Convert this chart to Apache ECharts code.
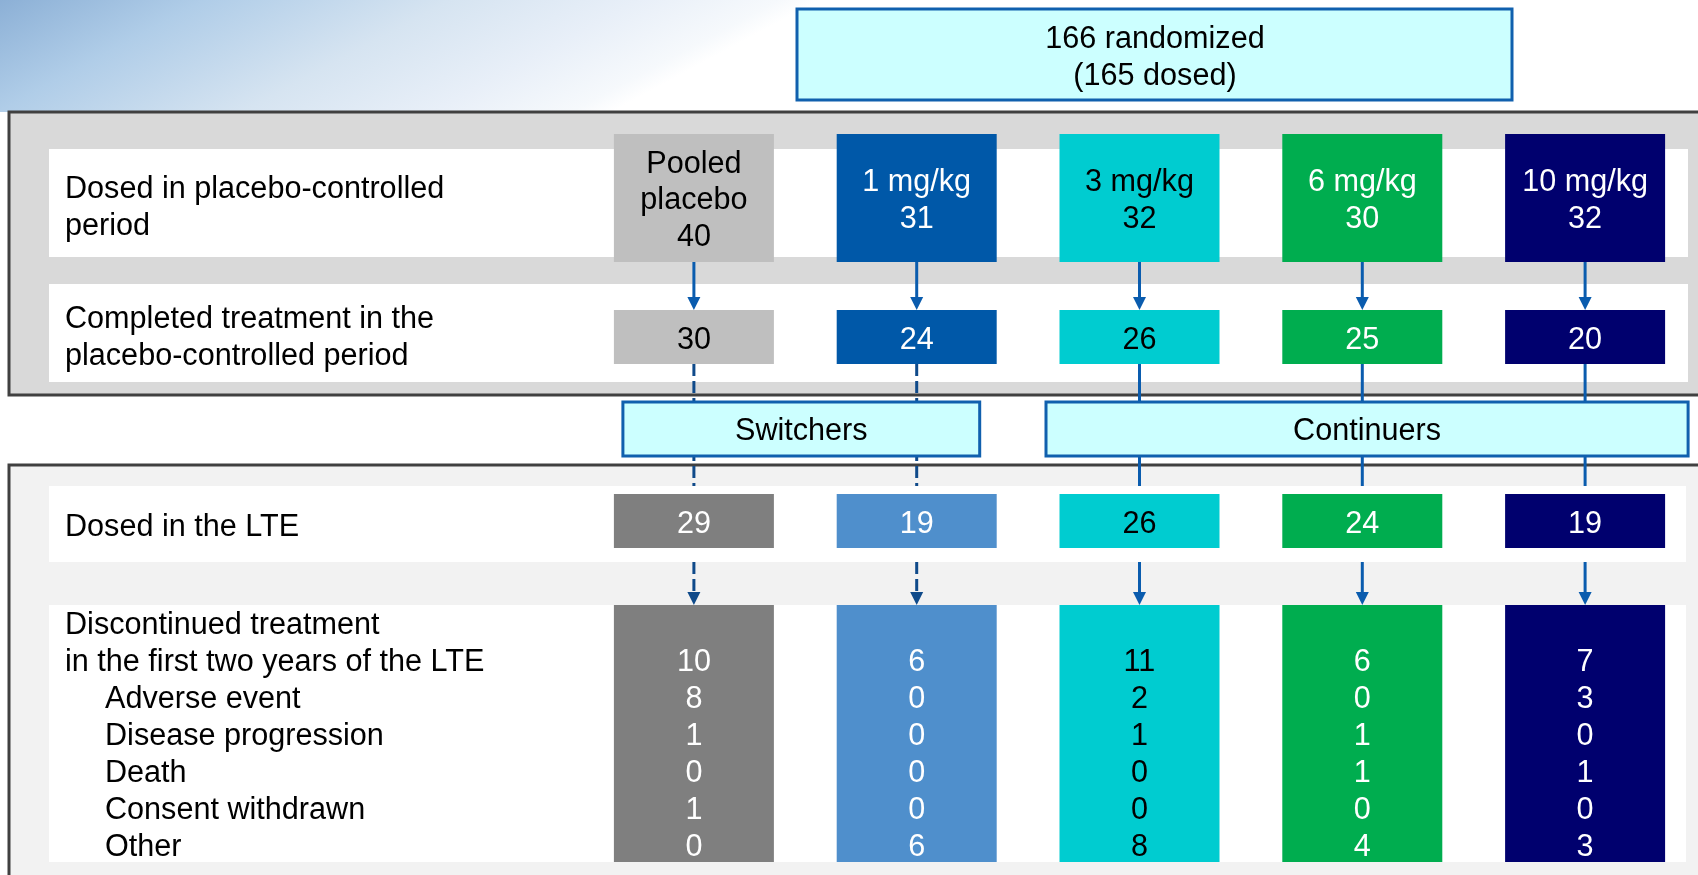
<!DOCTYPE html>
<html>
<head>
<meta charset="utf-8">
<script src="https://cdn.jsdelivr.net/npm/echarts@6/dist/echarts.min.js"></script>
<style>
  html, body { margin: 0; padding: 0; background: #ffffff; }
  #chart { width: 1698px; height: 875px; }
</style>
</head>
<body>
<div id="chart"></div>
<script>
// ---- Study flow data ----
const arms = ['Pooled\nplacebo', '1 mg/kg', '3 mg/kg', '6 mg/kg', '10 mg/kg'];
const dosedPlaceboPeriod = [40, 31, 32, 30, 32];
const completedPlaceboPeriod = [30, 24, 26, 25, 20];
const dosedLTE = [29, 19, 26, 24, 19];
const discontinuedLTE = [10, 6, 11, 6, 7];
const adverseEvent = [8, 0, 2, 0, 3];
const diseaseProgression = [1, 0, 1, 1, 0];
const death = [0, 0, 0, 1, 1];
const consentWithdrawn = [1, 0, 0, 0, 0];
const otherReason = [0, 6, 8, 4, 3];
const randomizedTotal = 166;
const dosedTotal = 165;

const stageLabels = [
  'Dosed in placebo-controlled\nperiod',
  'Completed treatment in the\nplacebo-controlled period',
  'Dosed in the LTE',
  'Discontinued treatment\nin the first two years of the LTE'
];
const reasonLabels = ['Adverse event', 'Disease progression', 'Death', 'Consent withdrawn', 'Other'];
const reasonValues = [adverseEvent, diseaseProgression, death, consentWithdrawn, otherReason];

const cohortNames = ['Switchers', 'Continuers'];
const cohortArms = [[0, 1], [2, 3, 4]];

// ---- Styling / layout ----
const FONT = 'Liberation Sans, Arial, sans-serif';
const FS = 30.6;
const TEXT_DY = 3;
const BOX_W = 160;
const TOP_FILL = ['#bfbfbf', '#0058a8', '#00ccd0', '#00ad4f', '#00006e'];
const LTE_FILL = ['#7f7f7f', '#4f8fcc', '#00ccd0', '#00ad4f', '#00006e'];
const TOP_TEXT = ['#000000', '#ffffff', '#000000', '#ffffff', '#ffffff'];
const LTE_TEXT = ['#ffffff', '#ffffff', '#000000', '#ffffff', '#ffffff'];
const LINE_SOLID = '#0a5cae';
const LINE_DASHED = '#0f4a8a';
const BOX_BORDER = '#1060ae';
const PANEL_BORDER = '#404040';
const COHORT_PAD = [[71, 63], [93.5, 103]];

// Row geometry on the (pixel-scaled) vertical axis
const ROW = {
  dosedPC: [134, 262, 198],
  completedPC: [310, 364, 338],
  dosedLTE: [494, 548, 522],
  discontinued: [605, 862],
  arrow1: [262, 310],
  link: [364, 486],
  arrow2: [562, 605],
  discLine0: 660,
  discStep: 37
};

const switcherArms = cohortArms[0];

function textEl(text, x, y, fill, align) {
  return {
    type: 'text',
    style: {
      text: text, x: x, y: y + TEXT_DY, fill: fill,
      fontSize: FS, fontFamily: FONT, lineHeight: 36.5,
      align: align || 'center', verticalAlign: 'middle'
    }
  };
}

function renderArm(params, api) {
  const i = api.value(0);
  const pt = (v) => api.coord([i, v]);
  const cx = pt(0)[0];
  const Y = (v) => pt(v)[1];
  const half = BOX_W / 2;
  const dashed = switcherArms.indexOf(i) >= 0;
  const children = [];

  const box = (y0, y1, fill) => children.push({
    type: 'rect',
    shape: { x: cx - half, y: Y(y0), width: BOX_W, height: Y(y1) - Y(y0) },
    style: { fill: fill }
  });
  const link = (y0, y1, isDashed, withHead) => {
    const stroke = isDashed ? LINE_DASHED : LINE_SOLID;
    const headLen = withHead ? 13 : 0;
    children.push({
      type: 'line',
      shape: { x1: cx, y1: Y(y0), x2: cx, y2: Y(y1) - headLen },
      style: { stroke: stroke, lineWidth: 3, lineDash: isDashed ? [12, 5] : null }
    });
    if (withHead) {
      children.push({
        type: 'polygon',
        shape: { points: [[cx - 6.5, Y(y1) - headLen], [cx + 6.5, Y(y1) - headLen], [cx, Y(y1)]] },
        style: { fill: stroke }
      });
    }
  };

  // placebo-controlled period
  link(ROW.arrow1[0], ROW.arrow1[1], false, true);
  box(ROW.dosedPC[0], ROW.dosedPC[1], TOP_FILL[i]);
  children.push(textEl(arms[i] + '\n' + dosedPlaceboPeriod[i], cx, Y(ROW.dosedPC[2]), TOP_TEXT[i]));
  box(ROW.completedPC[0], ROW.completedPC[1], TOP_FILL[i]);
  children.push(textEl(String(completedPlaceboPeriod[i]), cx, Y(ROW.completedPC[2]), TOP_TEXT[i]));

  // into the LTE
  link(ROW.link[0], ROW.link[1], dashed, false);
  box(ROW.dosedLTE[0], ROW.dosedLTE[1], LTE_FILL[i]);
  children.push(textEl(String(dosedLTE[i]), cx, Y(ROW.dosedLTE[2]), LTE_TEXT[i]));

  // discontinuations
  link(ROW.arrow2[0], ROW.arrow2[1], dashed, true);
  box(ROW.discontinued[0], ROW.discontinued[1], LTE_FILL[i]);
  const col = [discontinuedLTE[i]].concat(reasonValues.map(r => r[i]));
  col.forEach((v, k) => {
    children.push(textEl(String(v), cx, Y(ROW.discLine0 + k * ROW.discStep), LTE_TEXT[i]));
  });

  return { type: 'group', children: children };
}

function renderCohort(params, api) {
  const c = api.value(0);
  const idx = cohortArms[c];
  const xa = api.coord([idx[0], 0])[0] - COHORT_PAD[c][0];
  const xb = api.coord([idx[idx.length - 1], 0])[0] + COHORT_PAD[c][1];
  const y0 = api.coord([0, 402])[1];
  const y1 = api.coord([0, 456])[1];
  return {
    type: 'group',
    children: [
      {
        type: 'rect',
        shape: { x: xa, y: y0, width: xb - xa, height: y1 - y0 },
        style: { fill: '#ccffff', stroke: BOX_BORDER, lineWidth: 3 }
      },
      textEl(cohortNames[c], (xa + xb) / 2, (y0 + y1) / 2, '#000000')
    ]
  };
}

// ---- Panels, row titles and header box ----
const graphic = [
  {
    type: 'rect', silent: true, z: -10,
    shape: { x: 0, y: 0, width: 1698, height: 112 },
    style: {
      fill: {
        type: 'linear', x: 0, y: 0, x2: 184, y2: 342, global: true,
        colorStops: [
          { offset: 0, color: '#8cb0d6' },
          { offset: 0.25, color: '#b0cde8' },
          { offset: 0.55, color: '#d6e4f1' },
          { offset: 0.78, color: '#e8eff8' },
          { offset: 0.95, color: '#f6f9fc' },
          { offset: 1, color: '#ffffff' }
        ]
      }
    }
  },
  { type: 'rect', silent: true, z: -9, shape: { x: 9, y: 112, width: 1720, height: 283 },
    style: { fill: '#d9d9d9', stroke: PANEL_BORDER, lineWidth: 3 } },
  { type: 'rect', silent: true, z: -8, shape: { x: 49, y: 149, width: 1639, height: 108 }, style: { fill: '#ffffff' } },
  { type: 'rect', silent: true, z: -8, shape: { x: 49, y: 284, width: 1639, height: 98 }, style: { fill: '#ffffff' } },
  { type: 'rect', silent: true, z: -9, shape: { x: 9, y: 465, width: 1720, height: 440 },
    style: { fill: '#f2f2f2', stroke: PANEL_BORDER, lineWidth: 3 } },
  { type: 'rect', silent: true, z: -8, shape: { x: 49, y: 486, width: 1637, height: 76 }, style: { fill: '#ffffff' } },
  { type: 'rect', silent: true, z: -8, shape: { x: 49, y: 605, width: 1637, height: 257 }, style: { fill: '#ffffff' } },
  { type: 'rect', silent: true, z: -7, shape: { x: 797, y: 9, width: 715, height: 91 },
    style: { fill: '#ccffff', stroke: BOX_BORDER, lineWidth: 3 } },
  Object.assign(textEl(randomizedTotal + ' randomized\n(' + dosedTotal + ' dosed)', 1155, 55, '#000000'), { z: -6, silent: true }),
  Object.assign(textEl(stageLabels[0], 65, 205, '#000000', 'left'), { silent: true }),
  Object.assign(textEl(stageLabels[1], 65, 335, '#000000', 'left'), { silent: true }),
  Object.assign(textEl(stageLabels[2], 65, 525, '#000000', 'left'), { silent: true })
];
// Discontinuation block: heading lines then indented reasons
stageLabels[3].split('\n').forEach((line, k) => {
  graphic.push(Object.assign(textEl(line, 65, 623 + k * 37, '#000000', 'left'), { silent: true }));
});
reasonLabels.forEach((line, k) => {
  graphic.push(Object.assign(textEl(line, 105, 697 + k * 37, '#000000', 'left'), { silent: true }));
});

const chart = echarts.init(document.getElementById('chart'), null, { renderer: 'canvas' });
chart.setOption({
  animation: false,
  backgroundColor: '#ffffff',
  grid: { left: 582.5, right: 1.5, top: 0, bottom: 0, containLabel: false },
  xAxis: { type: 'category', data: arms, show: false },
  yAxis: { type: 'value', min: 0, max: 875, inverse: true, show: false },
  graphic: graphic,
  series: [
    {
      type: 'custom',
      z: 2,
      renderItem: renderArm,
      data: arms.map((a, i) => [i, 0]),
      encode: { x: 0, y: 1 },
      silent: true
    },
    {
      type: 'custom',
      z: 5,
      renderItem: renderCohort,
      data: cohortNames.map((n, c) => [c, 0]),
      encode: { x: -1, y: 1 },
      silent: true
    }
  ]
});
</script>
</body>
</html>
